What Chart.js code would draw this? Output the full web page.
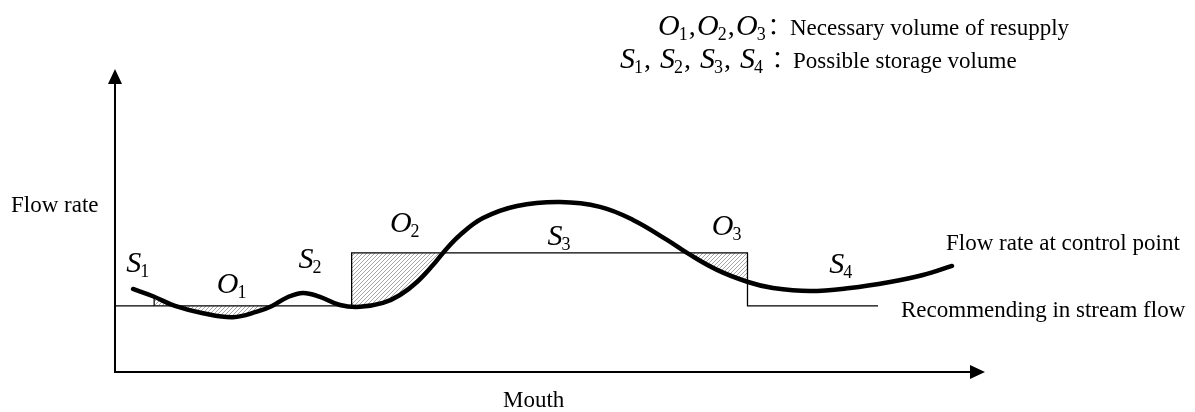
<!DOCTYPE html>
<html>
<head>
<meta charset="utf-8">
<script src="https://cdn.jsdelivr.net/npm/chart.js@4"></script>
<style>
html,body{margin:0;padding:0;background:#fff;overflow:hidden}
canvas{display:block}
</style>
</head>
<body>
<canvas id="c" width="1195" height="412"></canvas>
<script>
// ---------- data ----------
const curveX = [2.07, 4.37, 6.90, 10.11, 13.56, 16.32, 18.05, 19.77, 21.61, 23.56, 25.86, 28.16, 30.80, 32.76, 34.71, 36.55, 37.70, 39.66, 42.30, 46.21, 51.15, 55.75, 59.54, 63.45, 65.75, 69.20, 72.76, 75.63, 79.89, 84.48, 89.08, 92.87, 96.21];
const curveY = [27.4, 25.0, 21.8, 19.4, 18.1, 19.9, 21.8, 24.6, 26.1, 24.8, 22.1, 21.5, 22.8, 25.4, 29.7, 35.3, 39.3, 45.2, 50.8, 54.8, 56.1, 54.5, 50.2, 43.6, 39.3, 33.7, 29.7, 27.7, 26.7, 27.7, 29.7, 32.0, 35.0];

const recommendedX = [0, 27.2, 72.7, 87.7];
const recommendedY = [21.8, 39.3, 21.8, 21.8];

const s1EdgeX = [4.5, 4.5, 5.7, 6.9];
const s1EdgeY = [21.8, 24.9, 23.4, 21.8];

const areaLetters = ['S', 'O', 'S', 'O', 'S', 'O', 'S'];
const areaSubs    = ['1', '1', '2', '2', '3', '3', '4'];

const legendOSubs = ['1', '2', '3'];
const legendSSubs = ['1', '2', '3', '4'];
const legendOText = 'Necessary volume of resupply';
const legendSText = 'Possible storage volume';

const yAxisTitle = 'Flow rate';
const xAxisTitle = 'Mouth';
const curveName = 'Flow rate at control point';
const recommendedName = 'Recommending in stream flow';

// ---------- layout ----------
const areaLabelX = [1.3, 11.7, 21.1, 31.6, 49.7, 68.6, 82.1];
const areaLabelY = [33.0, 26.1, 34.3, 46.2, 41.9, 45.2, 32.7];

const SERIF = '"Liberation Serif", "Times New Roman", serif';

function makeHatch() {
  const c = document.createElement('canvas');
  c.width = 4; c.height = 4;
  const g = c.getContext('2d');
  g.strokeStyle = '#a6a6a6';
  g.lineWidth = 1;
  g.beginPath();
  g.moveTo(0, 4); g.lineTo(4, 0);
  g.moveTo(-1, 1); g.lineTo(1, -1);
  g.moveTo(3, 5); g.lineTo(5, 3);
  g.stroke();
  return g.createPattern(c, 'repeat');
}
const hatch = makeHatch();

function pts(xs, ys) { return xs.map((x, i) => ({x: x, y: ys[i]})); }

function drawSym(ctx, x, y, letter, sub) {
  ctx.font = 'italic 30px ' + SERIF;
  ctx.fillText(letter, x, y);
  const w = ctx.measureText(letter).width;
  ctx.font = '18px ' + SERIF;
  const sx = x + w - 1;
  ctx.fillText(sub, sx, y + 5);
  return sx + ctx.measureText(sub).width;
}

function drawSymList(ctx, x0, step, y, letter, subs) {
  subs.forEach((s, i) => {
    const end = drawSym(ctx, x0 + i * step, y, letter, s);
    if (i < subs.length - 1) {
      ctx.font = '28px ' + SERIF;
      ctx.fillText(',', end + 1, y);
    }
  });
}

const decorPlugin = {
  id: 'decor',
  afterDatasetsDraw(chart) {
    const ctx = chart.ctx;
    const a = chart.chartArea;
    const xs = chart.scales.x, ys = chart.scales.y;
    ctx.save();
    // axes with arrowheads
    ctx.strokeStyle = '#000';
    ctx.fillStyle = '#000';
    ctx.lineWidth = 2;
    ctx.beginPath();
    ctx.moveTo(a.left, a.bottom);
    ctx.lineTo(a.left, a.top + 10);
    ctx.moveTo(a.left - 1, a.bottom);
    ctx.lineTo(a.right - 10, a.bottom);
    ctx.stroke();
    ctx.beginPath();
    ctx.moveTo(a.left, a.top);
    ctx.lineTo(a.left - 7, a.top + 15);
    ctx.lineTo(a.left + 7, a.top + 15);
    ctx.closePath();
    ctx.fill();
    ctx.beginPath();
    ctx.moveTo(a.right, a.bottom);
    ctx.lineTo(a.right - 15, a.bottom - 7);
    ctx.lineTo(a.right - 15, a.bottom + 7);
    ctx.closePath();
    ctx.fill();

    // area labels
    ctx.textAlign = 'left';
    ctx.textBaseline = 'alphabetic';
    areaLetters.forEach((l, i) => {
      drawSym(ctx, xs.getPixelForValue(areaLabelX[i]), ys.getPixelForValue(areaLabelY[i]), l, areaSubs[i]);
    });

    // plain texts
    ctx.font = '23px ' + SERIF;
    ctx.fillText(yAxisTitle, 11, 212);
    ctx.fillText(xAxisTitle, 503, 407);
    ctx.fillText(curveName, 946, 250);
    ctx.fillText(recommendedName, 901, 317);

    // legend
    drawSymList(ctx, 658, 39, 35, 'O', legendOSubs);
    drawSymList(ctx, 620, 40, 68, 'S', legendSSubs);
    ctx.font = '23px "Noto Sans CJK JP", sans-serif';
    ctx.fillText('\uFF1A', 762, 35);
    ctx.fillText('\uFF1A', 766, 68);
    ctx.font = '23px ' + SERIF;
    ctx.fillText(legendOText, 790, 35);
    ctx.fillText(legendSText, 793, 68);
    ctx.restore();
  }
};

new Chart(document.getElementById('c'), {
  type: 'line',
  data: {
    datasets: [
      {
        label: curveName,
        data: pts(curveX, curveY),
        borderColor: '#000',
        borderWidth: 4.5,
        pointRadius: 0,
        tension: 0.4,
        borderCapStyle: 'round',
        fill: {target: '+1', above: 'rgba(0,0,0,0)', below: hatch}
      },
      {
        label: recommendedName,
        data: pts(recommendedX, recommendedY),
        borderColor: '#000',
        borderWidth: 1.3,
        pointRadius: 0,
        stepped: true,
        fill: false
      },
      {
        label: 'S1 edge',
        data: pts(s1EdgeX, s1EdgeY),
        borderColor: '#000',
        borderWidth: 1.2,
        pointRadius: 0,
        backgroundColor: hatch,
        fill: {target: {value: recommendedY[0]}}
      }
    ]
  },
  options: {
    responsive: false,
    animation: false,
    devicePixelRatio: 1,
    layout: {padding: {left: 115, right: 210, top: 69, bottom: 40}},
    scales: {
      x: {type: 'linear', min: 0, max: 100, display: false},
      y: {type: 'linear', min: 0, max: 100, display: false}
    },
    plugins: {
      legend: {display: false},
      tooltip: {enabled: false},
      filler: {drawTime: 'beforeDatasetsDraw'}
    },
    events: []
  },
  plugins: [decorPlugin]
});
</script>
</body>
</html>
